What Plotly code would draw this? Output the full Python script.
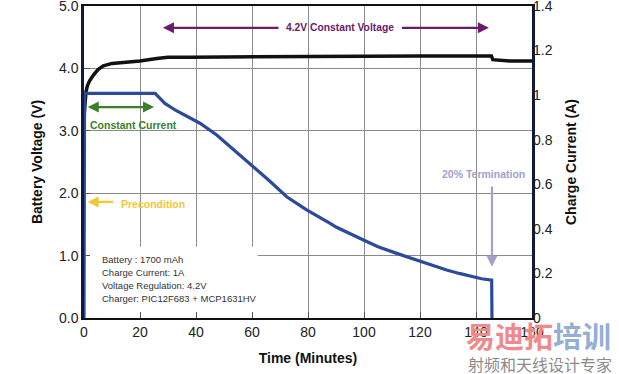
import plotly.graph_objects as go

# ---- data ----
volt_t = [0, 0.3, 0.7, 1.2, 2, 3.3, 5, 6.9, 10, 15, 20, 26, 30, 38, 50, 60, 70, 80, 90, 100, 110, 120, 130, 140, 145.5, 146, 148, 152, 156, 160]
volt_v = [3.22, 3.5, 3.62, 3.72, 3.8, 3.89, 3.98, 4.04, 4.08, 4.1, 4.12, 4.16, 4.18, 4.18, 4.185, 4.185, 4.19, 4.19, 4.195, 4.2, 4.2, 4.2, 4.2, 4.2, 4.2, 4.14, 4.13, 4.12, 4.12, 4.12]

curr_t = [0, 0.2, 25.4, 28.9, 33, 41.4, 47.4, 53, 59.3, 66, 72.4, 79.5, 87.9, 90.2, 99.8, 105, 111.7, 119.4, 124, 129.5, 134, 139, 142, 145.6, 145.7]
curr_a = [0, 1.008, 1.008, 0.963, 0.93, 0.874, 0.821, 0.76, 0.694, 0.618, 0.544, 0.485, 0.425, 0.407, 0.35, 0.32, 0.29, 0.257, 0.235, 0.215, 0.2, 0.183, 0.176, 0.17, 0]

x_ticks = [0, 20, 40, 60, 80, 100, 120, 140, 160]
v_ticks = [0, 1, 2, 3, 4, 5]
v_tick_text = ["0.0", "1.0", "2.0", "3.0", "4.0", "5.0"]
i_ticks = [0, 0.2, 0.4, 0.6, 0.8, 1.0, 1.2, 1.4]
i_tick_text = ["0", "0.2", "0.4", "0.6", "0.8", "1", "1.2", "1.4"]

info_lines = ["Battery : 1700 mAh", "Charge Current: 1A", "Voltage Regulation: 4.2V", "Charger: PIC12F683 + MCP1631HV"]

FONT = "Liberation Sans, Arial, sans-serif"

W, H = 619, 374
ML, MR, MT, MB = 84, 87, 6, 56
PW, PH = W - ML - MR, H - MT - MB


def px_to_paper(px, py):
    return (px - ML) / PW, (H - MB - py) / PH


fig = go.Figure()
fig.add_trace(go.Scatter(x=volt_t, y=volt_v, mode="lines", line=dict(color="#111111", width=3.5),
                         yaxis="y", showlegend=False, hoverinfo="skip"))
fig.add_trace(go.Scatter(x=curr_t, y=curr_a, mode="lines", line=dict(color="#2b4a9b", width=3.2),
                         yaxis="y2", showlegend=False, hoverinfo="skip"))

annotations = []
purple = "#6a1b6a"
annotations += [
    dict(x=28.2, y=4.65, ax=70, ay=4.65, xref="x", yref="y", axref="x", ayref="y", text="", showarrow=True,
         arrowhead=2, arrowsize=1, arrowwidth=2.2, arrowcolor=purple),
    dict(x=144.6, y=4.65, ax=113, ay=4.65, xref="x", yref="y", axref="x", ayref="y", text="", showarrow=True,
         arrowhead=2, arrowsize=1, arrowwidth=2.2, arrowcolor=purple),
    dict(x=91.4, y=4.65, xref="x", yref="y", text="<b>4.2V Constant Voltage</b>", showarrow=False,
         font=dict(family=FONT, size=10.3, color=purple)),
]
green = "#3a7f2a"
annotations += [
    dict(x=25, y=3.38, ax=0.8, ay=3.38, xref="x", yref="y", axref="x", ayref="y", text="", showarrow=True,
         arrowhead=2, startarrowhead=2, arrowside="end+start", arrowsize=1, arrowwidth=2.2, arrowcolor=green),
    dict(x=17.8, y=3.1, xref="x", yref="y", text="<b>Constant Current</b>", showarrow=False,
         font=dict(family=FONT, size=10.5, color=green)),
]
yellow = "#f2c832"
annotations += [
    dict(x=1.3, y=1.86, ax=11, ay=1.86, xref="x", yref="y", axref="x", ayref="y", text="", showarrow=True,
         arrowhead=2, arrowsize=1, arrowwidth=2.2, arrowcolor=yellow),
    dict(x=24.8, y=1.82, xref="x", yref="y", text="<b>Precondition</b>", showarrow=False,
         font=dict(family=FONT, size=10.5, color=yellow)),
]
lav = "#a4a0cc"
annotations += [
    dict(x=145.7, y=0.82, ax=145.7, ay=2.13, xref="x", yref="y", axref="x", ayref="y", text="", showarrow=True,
         arrowhead=2, arrowsize=1, arrowwidth=2.2, arrowcolor=lav),
    dict(x=142.6, y=2.31, xref="x", yref="y", text="<b>20% Termination</b>", showarrow=False,
         font=dict(family=FONT, size=10.5, color=lav)),
]
for k, line in enumerate(info_lines):
    annotations.append(dict(x=5.8, y=0.93 - k * 0.208, xref="x", yref="y", xanchor="left", text=line,
                            showarrow=False, font=dict(family=FONT, size=9.5, color="#333333")))
# watermark
wx1, wy1 = px_to_paper(464, 312)
wx2, wy2 = px_to_paper(466, 350)
annotations += [
    dict(x=wx1, y=wy1, xref="paper", yref="paper", xanchor="left", yanchor="top",
         text="<b><span style='color:#ee8a8a'>易迪拓</span><span style='color:#94aed4'>培训</span></b>",
         showarrow=False, font=dict(family="Noto Sans CJK SC", size=29)),
    dict(x=wx2, y=wy2, xref="paper", yref="paper", xanchor="left", yanchor="top",
         text="射频和天线设计专家", showarrow=False,
         font=dict(family="Noto Sans CJK SC", size=16, color="#8c8c8c")),
]

shapes = [
    dict(type="rect", xref="x", yref="y", x0=0.6, x1=62, y0=0.03, y1=1.14, layer="between",
         fillcolor="white", line=dict(width=0)),
]

fig.update_layout(
    template="none",
    width=W, height=H,
    margin=dict(l=ML, r=MR, t=MT, b=MB),
    paper_bgcolor="white", plot_bgcolor="white",
    font=dict(family=FONT, size=14, color="#222222"),
    xaxis=dict(range=[0, 160], tickvals=x_ticks, ticks="inside", ticklen=6, tickcolor="#555555",
               showgrid=True, gridcolor="#8a8a8a", gridwidth=1.3, zeroline=False, automargin=False,
               showline=True, linecolor="#111111", linewidth=2, mirror=True, ticklabeloverflow="allow",
               title=dict(text="<b>Time (Minutes)</b>", font=dict(size=14, color="#111111"), standoff=14),
               tickfont=dict(size=14)),
    yaxis=dict(range=[0, 5], tickvals=v_ticks, ticktext=v_tick_text, ticks="inside", ticklen=6,
               tickcolor="#555555", showgrid=True, gridcolor="#8a8a8a", gridwidth=1.3, zeroline=False,
               automargin=False, ticklabeloverflow="allow",
               showline=True, linecolor="#111a3a", linewidth=2.5, mirror=True,
               title=dict(text="<b>Battery Voltage (V)</b>", font=dict(size=14, color="#111111"), standoff=14),
               tickfont=dict(size=14)),
    yaxis2=dict(range=[0, 1.4], tickvals=i_ticks, ticktext=i_tick_text, overlaying="y", side="right",
                showgrid=False, zeroline=False, ticks="", showline=False, automargin=False,
                ticklabeloverflow="allow",
                title=dict(text="<b>Charge Current (A)</b>", font=dict(size=14, color="#111111"), standoff=14),
                tickfont=dict(size=14)),
    annotations=annotations,
    shapes=shapes,
)

fig.write_html("out.html", config={"displayModeBar": False},
               post_script="document.body.style.margin='0';")
